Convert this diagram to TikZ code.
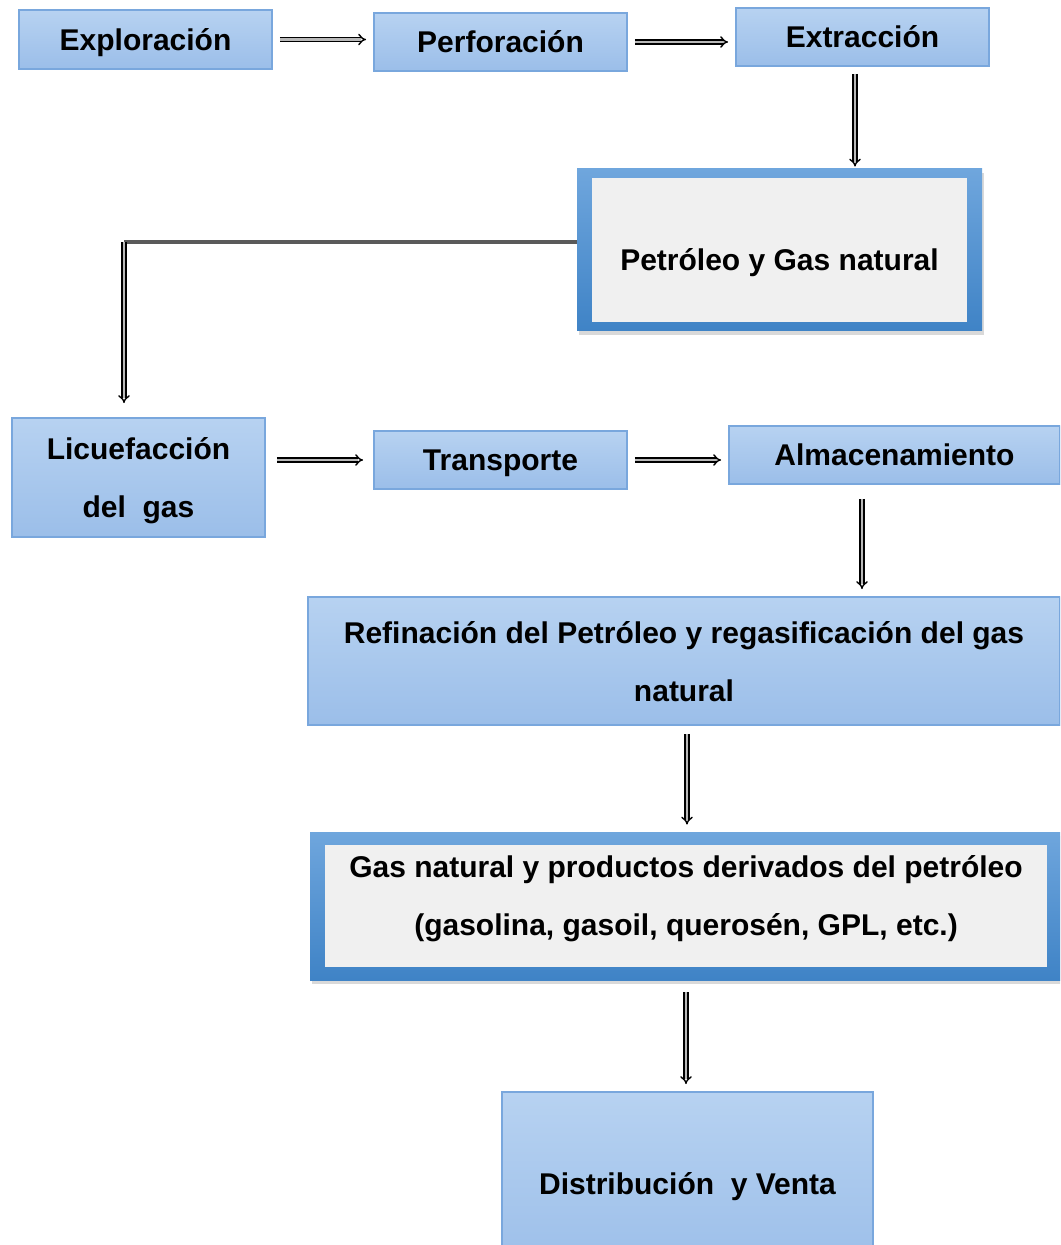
\documentclass[tikz,border=0pt]{standalone}
\usepackage{fontspec}
\setmainfont{Liberation Sans}
\usetikzlibrary{positioning,arrows.meta,shadows}

\definecolor{phaseTop}{HTML}{B7D2F1}
\definecolor{phaseBot}{HTML}{9BBEE9}
\definecolor{phaseLine}{HTML}{79A7DD}
\definecolor{frameTop}{HTML}{6FA6DD}
\definecolor{frameBot}{HTML}{3F83C6}
\definecolor{paneGray}{HTML}{F0F0F0}
\definecolor{feedGray}{HTML}{5A5A5A}

\begin{document}
\begin{tikzpicture}[x=0.5pt, y=-0.5pt,
    every node/.style={font=\bfseries\fontsize{15}{29}\selectfont, align=center, inner sep=0pt},
    phase/.style={rectangle, top color=phaseTop, bottom color=phaseBot, draw=phaseLine, line width=0.9pt,
        text depth=0pt},
    frame/.style={rectangle, top color=frameTop, bottom color=frameBot,
        drop shadow={shadow xshift=1.2pt, shadow yshift=-2pt, opacity=0.3}},
    pane/.style={rectangle, fill=paneGray},
    flow/.style={double=gray!55, double distance=1.2pt, line width=0.7pt, -{Implies},
        shorten <=3.5pt, shorten >=3.5pt},
    feed/.style={line width=2.4pt, draw=feedGray}]
\clip (0,0) rectangle (1060,1245);

% first row
\node[phase, minimum width=126.5pt, minimum height=29.5pt] (expl) at (145.5,39.5) {Exploración};
\node[phase, minimum width=126.5pt, minimum height=29pt] (perf) at (500.5,42) {Perforación};
\node[phase, minimum width=126.5pt, minimum height=29pt] (extr) at (862.5,37) {Extracción};
\draw[flow] (expl.east) -- (expl.east -| perf.west);
\draw[flow] (perf.east) -- (perf.east -| extr.west);

% oil and gas
\node[frame, minimum width=202.5pt, minimum height=81pt] (petro) at (779.5,250) {};
\node[pane, minimum width=187.5pt, minimum height=72pt, text height=24pt, text depth=3pt] (petroin) at (petro)
    {Petróleo y Gas natural};
\draw[flow, shorten >=1pt] ([xshift=-3.75pt]extr.south) -- ([xshift=-3.75pt]extr.south |- petro.north);

% second row
\node[phase, minimum width=126.5pt, minimum height=59.5pt] (licu) at (138.5,477.5) {Licuefacción\\del\ \ gas};
\node[phase, minimum width=126.5pt, minimum height=29pt] (trans) at (500.5,460) {Transporte};
\node[phase, minimum width=165.5pt, minimum height=29pt] (almac) at (894.5,455) {Almacenamiento};
\coordinate (bend) at (124,242);
\draw[feed] (bend -| petro.west) -- (bend);
\draw[flow, shorten <=0pt, shorten >=7pt] (bend) -- (bend |- licu.north);
\draw[flow, shorten <=5.5pt, shorten >=5pt] (trans.west -| licu.east) -- (trans.west);
\draw[flow] (trans.east) -- (trans.east -| almac.west);

% refining and products
\node[phase, minimum width=376pt, minimum height=64pt] (refin) at (684,661)
    {Refinación del Petróleo y regasificación del gas\\natural};
\draw[flow, shorten <=7pt] ([xshift=-16.25pt]almac.south) -- ([xshift=-16.25pt]almac.south |- refin.north);

\node[frame, minimum width=376pt, minimum height=74pt] (prod) at (686,906) {};
\node[pane, minimum width=361pt, minimum height=61pt, text depth=11pt] (prodin) at (prod)
    {Gas natural y productos derivados del petróleo\\(gasolina, gasoil, querosén, GPL, etc.)};
\draw[flow, shorten <=4pt] ([xshift=1.5pt]refin.south) -- ([xshift=1.5pt]refin.south |- prod.north);

\node[phase, minimum width=185.5pt, minimum height=91pt] (distr) at (687.5,1183) {Distribución\ \ y Venta};
\draw[flow, shorten <=6pt] (prod.south) -- (prod.south |- distr.north);
\end{tikzpicture}
\end{document}
